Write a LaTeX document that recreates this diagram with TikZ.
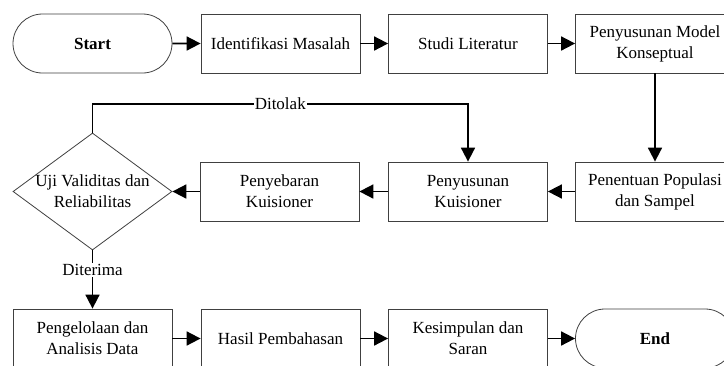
\documentclass[tikz,border=0pt]{standalone}
\usepackage{fontspec}
\setmainfont{Liberation Serif}
\usetikzlibrary{shapes.geometric,shapes.misc,arrows.meta}
\begin{document}
\begin{tikzpicture}[x=1pt,y=-1pt,
  every node/.style={font=\fontsize{17}{21}\selectfont, text=black, align=center},
  box/.style={draw=black!75, line width=0.8pt, rectangle, minimum width=159pt, minimum height=59pt, inner sep=0pt},
  term/.style={draw=black!75, line width=0.8pt, rounded rectangle, minimum width=159pt, minimum height=59pt, inner sep=0pt, font=\fontsize{17}{21}\selectfont\bfseries},
  dec/.style={draw=black!75, line width=0.8pt, diamond, minimum width=159pt, minimum height=117pt, inner sep=0pt},
  arr/.style={line width=1.8pt, -{Triangle[length=14pt,width=14pt]}},
  lab/.style={fill=white, inner sep=1pt}]
\useasboundingbox (0,0) rectangle (724,365);
\fill[white] (0,0) rectangle (724,365);
\clip (0,0) rectangle (724,365);
% row 1
\node[term] (start) at (92.5,43.5) {Start};
\node[box] (ident) at (280.5,43.5) {Identifikasi Masalah};
\node[box] (studi) at (468,43.5) {Studi Literatur};
\node[box] (model) at (655,43.5) {Penyusunan Model\\Konseptual};
% row 2
\node[box] (popul) at (655,191.5) {Penentuan Populasi\\dan Sampel};
\node[box] (kuis) at (468,191.5) {Penyusunan\\Kuisioner};
\node[box] (sebar) at (279.5,191.5) {Penyebaran\\Kuisioner};
\node[dec, label={center:{Uji Validitas dan\\Reliabilitas}}] (uji) at (92.5,191.5) {};
% row 3
\node[box] (olah) at (92.5,338.5) {Pengelolaan dan\\Analisis Data};
\node[box] (hasil) at (280.5,338.5) {Hasil Pembahasan};
\node[box] (simpul) at (468,338.5) {Kesimpulan dan\\Saran};
\node[term] (end) at (655,338.5) {End};
% connectors
\draw[arr] (start) -- (ident);
\draw[arr] (ident) -- (studi);
\draw[arr] (studi) -- (model);
\draw[arr] (model) -- (popul);
\draw[arr] (popul) -- (kuis);
\draw[arr] (kuis) -- (sebar);
\draw[arr] (sebar) -- (uji.east);
\coordinate (tolak) at (92.5,104);
\draw[arr] (uji.north) -- (tolak) -| node[lab, pos=0.25] {Ditolak} (kuis.north);
\draw[arr] (uji.south) -- node[lab, pos=0.34] {Diterima} (olah.north);
\draw[arr] (olah) -- (hasil);
\draw[arr] (hasil) -- (simpul);
\draw[arr] (simpul) -- (end);
\end{tikzpicture}
\end{document}
